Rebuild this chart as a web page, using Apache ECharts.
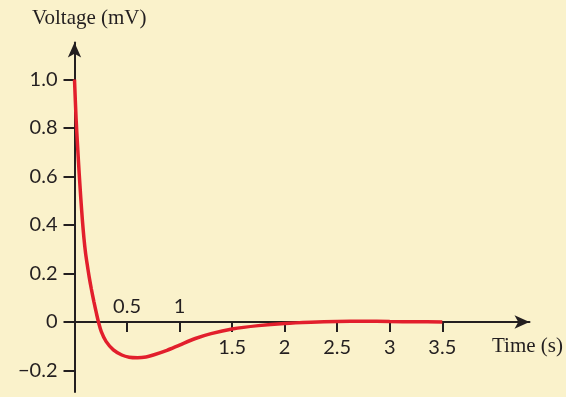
<!DOCTYPE html>
<html>
<head>
<meta charset="utf-8">
<script src="https://cdn.jsdelivr.net/npm/echarts@6/dist/echarts.min.js"></script>
<style>
html,body{margin:0;padding:0;background:#FAF2CB;}
#c{width:566px;height:397px;}
</style>
</head>
<body>
<div id="c"></div>
<script>
// Data
const times = [0, 0.015, 0.03, 0.045, 0.06, 0.075, 0.09, 0.105, 0.12, 0.14, 0.16, 0.185, 0.21, 0.23, 0.255, 0.3, 0.37, 0.45, 0.52, 0.6, 0.68, 0.75, 0.88, 1.0, 1.15, 1.3, 1.5, 1.75, 2.0, 2.25, 2.5, 2.75, 3.0, 3.25, 3.5];
const voltage = [1.0, 0.84, 0.72, 0.61, 0.51, 0.42, 0.345, 0.285, 0.24, 0.185, 0.137, 0.083, 0.033, -0.003, -0.04, -0.08, -0.115, -0.136, -0.145, -0.147, -0.144, -0.136, -0.117, -0.095, -0.068, -0.048, -0.029, -0.015, -0.006, -0.001, 0.002, 0.003, 0.002, 0.001, 0.0];
const yTicks = [-0.2, 0, 0.2, 0.4, 0.6, 0.8, 1.0];
const xTicksBelow = [1.5, 2, 2.5, 3, 3.5];
const xTicksAbove = [0.5, 1];
const xTicksAll = [0.5, 1, 1.5, 2, 2.5, 3, 3.5];
const xName = 'Time (s)';
const yName = 'Voltage (mV)';

const ink = '#231F20';
const numFont = 'Lato';
const yMin = -0.2887, yMax = 1.1526;
const zeroOffset = -70; // x axis sits at y = 0, 70px above the grid bottom
const chart = echarts.init(document.getElementById('c'), null, {renderer: 'canvas'});
chart.setOption({
  animation: false,
  backgroundColor: '#FAF2CB',
  grid: {left: 74.5, top: 42.5, width: 455, height: 349.5, containLabel: false, outerBoundsMode: 'none'},
  xAxis: [{
    type: 'value', min: 0, max: 4.33, position: 'bottom', offset: zeroOffset,
    axisLine: {show: true, onZero: false, symbol: ['none', 'arrow'], symbolSize: [10, 15], lineStyle: {color: ink, width: 2}},
    axisTick: {show: true, length: 10, customValues: xTicksAll, lineStyle: {color: ink, width: 2}},
    axisLabel: {show: true, customValues: xTicksBelow, margin: 16, color: ink, fontFamily: numFont, fontSize: 20,
      formatter: v => String(v)},
    splitLine: {show: false}
  }, {
    type: 'value', min: 0, max: 4.33, position: 'bottom', offset: zeroOffset,
    axisLine: {show: false, onZero: false},
    axisTick: {show: false},
    axisLabel: {show: true, inside: true, customValues: xTicksAbove, margin: 5, color: ink, fontFamily: numFont, fontSize: 20,
      formatter: v => String(v)},
    splitLine: {show: false}
  }],
  yAxis: {
    type: 'value', min: yMin, max: yMax, position: 'left',
    axisLine: {show: true, onZero: false, symbol: ['none', 'arrow'], symbolSize: [10, 15], lineStyle: {color: ink, width: 2}},
    axisTick: {show: true, length: 11, customValues: yTicks, lineStyle: {color: ink, width: 2}},
    axisLabel: {show: true, customValues: yTicks, margin: 17, color: ink, fontFamily: numFont, fontSize: 20,
      formatter: v => v === 0 ? '0' : (v < 0 ? '\u2212' + Math.abs(v).toFixed(1) : v.toFixed(1))},
    splitLine: {show: false}
  },
  graphic: [
    {type: 'text', left: 32, top: 8, style: {text: yName, font: '21px "Liberation Serif"', fill: ink}},
    {type: 'text', right: 3, top: 336, style: {text: xName, font: '21px "Liberation Serif"', fill: ink}}
  ],
  series: [{
    type: 'line', smooth: 0.3, showSymbol: false, xAxisIndex: 0, yAxisIndex: 0,
    data: times.map((t, i) => [t, voltage[i]]),
    lineStyle: {color: '#E21F2C', width: 3.5},
    z: 3
  }]
});
</script>
</body>
</html>
